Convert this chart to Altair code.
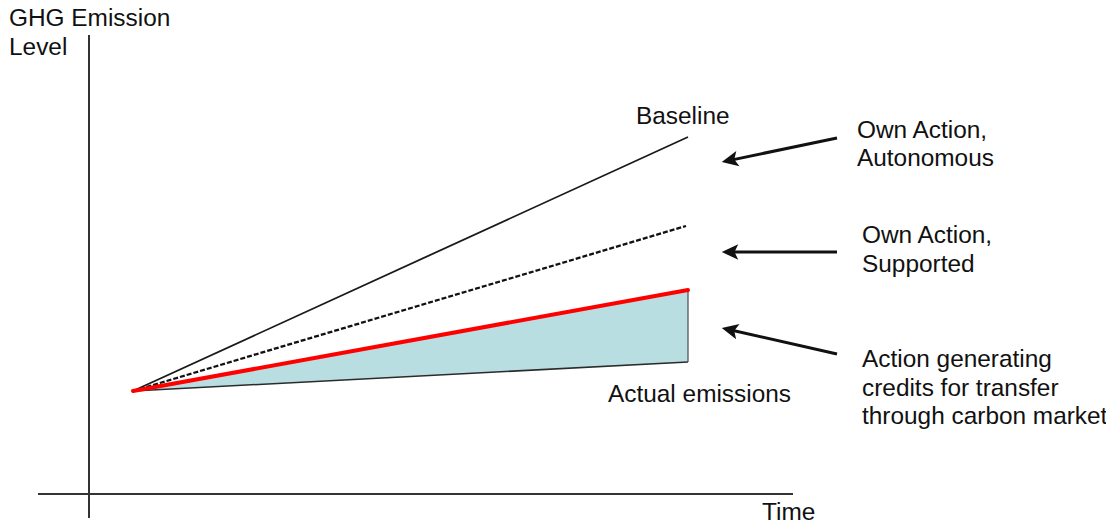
import math
import altair as alt
import pandas as pd

# Chart units: time measured from the vertical axis, level measured up from the time axis
# Emission pathways (start and end points)
t_start = 44
t_end = 599
level_start = 103
baseline_end = 357
supported_end = 268
credits_end = 204
actual_end = 132

# Axis lines
y_axis_span = [-24, 459]
x_axis_span = [-51, 704]

# Text labels (left edge, baseline)
labels = ["GHG Emission", "Level", "Baseline", "Actual emissions", "Time",
          "Own Action,", "Autonomous", "Own Action,", "Supported",
          "Action generating", "credits for transfer", "through carbon market"]
label_t = [-80, -80, 547, 519, 673, 768, 768, 773, 773, 773, 773, 773]
label_level = [468, 439, 370, 92, -26, 356, 328, 251, 222, 127, 98, 70]

# Arrows: tail -> tip
arrow_tail_t = [748, 748, 748]
arrow_tail_level = [356, 242, 140]
arrow_tip_t = [633, 633, 633]
arrow_tip_level = [332, 242, 166]

W, H = 1098, 513
xs = alt.Scale(domain=[-81, -81 + W], nice=False, zero=False)
ys = alt.Scale(domain=[-27, -27 + H], nice=False, zero=False)


def seg(t0, l0, t1, l1, color, width, dash=None, cap="butt"):
    df = pd.DataFrame({"t": [t0], "l": [l0], "t2": [t1], "l2": [l1]})
    kw = dict(color=color, strokeWidth=width, strokeCap=cap)
    if dash:
        kw["strokeDash"] = dash
    return alt.Chart(df).mark_rule(**kw).encode(
        x=alt.X("t:Q", scale=xs, axis=None),
        y=alt.Y("l:Q", scale=ys, axis=None),
        x2="t2:Q", y2="l2:Q")


area_df = pd.DataFrame({"t": [t_start, t_end],
                        "low": [level_start, actual_end],
                        "high": [level_start, credits_end]})
area = alt.Chart(area_df).mark_area(color="#b9dee2", opacity=1).encode(
    x=alt.X("t:Q", scale=xs, axis=None),
    y=alt.Y("low:Q", scale=ys, axis=None),
    y2="high:Q")

layers = [
    area,
    seg(t_start, level_start, t_end, actual_end, "#2b2b2b", 1.6),
    seg(t_end, actual_end, t_end, credits_end, "#555555", 1.3),
    seg(t_start, level_start, t_end, baseline_end, "#1a1a1a", 1.8),
    seg(t_start, level_start, t_end - 2, supported_end, "#111111", 2.3, dash=[5, 2]),
    seg(t_start, level_start, t_end, credits_end, "#ff0000", 4, cap="round"),
    seg(0, y_axis_span[0], 0, y_axis_span[1], "#333333", 2),
    seg(x_axis_span[0], 0, x_axis_span[1], 0, "#333333", 2),
]

# arrows
head_len = 8
head_rows = []
for tt, tl, pt, pl in zip(arrow_tail_t, arrow_tail_level, arrow_tip_t, arrow_tip_level):
    dx, dy = pt - tt, pl - tl
    n = math.hypot(dx, dy)
    ux, uy = dx / n, dy / n
    ct, cl = pt - ux * head_len, pl - uy * head_len
    ang = math.degrees(math.atan2(dx, dy)) % 360  # clockwise from up (screen)
    head_rows.append({"t": ct, "l": cl, "ang": ang})
    layers.append(seg(tt, tl, ct, cl, "#111111", 3))

heads = alt.Chart(pd.DataFrame(head_rows)).mark_point(
    shape="M0,-1L0.95,1L0,0.55L-0.95,1Z", filled=True, color="#111111",
    size=272, opacity=1).encode(
    x=alt.X("t:Q", scale=xs, axis=None),
    y=alt.Y("l:Q", scale=ys, axis=None),
    angle=alt.Angle("ang:Q", scale=None))
layers.append(heads)

text_df = pd.DataFrame({"label": labels, "t": label_t, "l": label_level})
texts = alt.Chart(text_df).mark_text(
    align="left", baseline="alphabetic", font="Liberation Sans",
    fontSize=24.4, color="#111111").encode(
    x=alt.X("t:Q", scale=xs, axis=None),
    y=alt.Y("l:Q", scale=ys, axis=None),
    text="label:N")
layers.append(texts)

chart = alt.layer(*layers).properties(
    width=W, height=H, padding=0,
    autosize=alt.AutoSizeParams(type="none")
).configure_view(stroke=None)

chart.save("out.html", embed_options={"renderer": "svg", "actions": False})
